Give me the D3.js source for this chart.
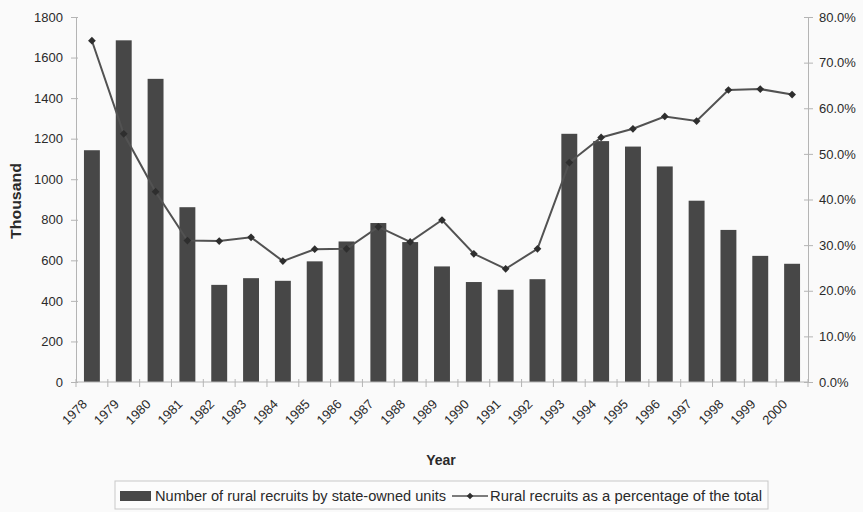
<!DOCTYPE html>
<html>
<head>
<meta charset="utf-8">
<script src="https://cdn.jsdelivr.net/npm/d3@7"></script>
<style>
body { margin: 0; background: #fff; }
text { font-family: "Liberation Sans", Arial, sans-serif; fill: #2a2a2a; }
</style>
</head>
<body>
<script>
const years = ["1978","1979","1980","1981","1982","1983","1984","1985","1986","1987","1988","1989","1990","1991","1992","1993","1994","1995","1996","1997","1998","1999","2000"]
const recruits = [1143, 1685, 1495, 862, 479, 512, 499, 595, 693, 784, 690, 570, 493, 455, 507, 1224, 1188, 1161, 1063, 894, 750, 622, 583]
const percentShare = [74.8, 54.4, 41.7, 31.0, 30.9, 31.7, 26.5, 29.1, 29.2, 34.0, 30.7, 35.5, 28.1, 24.8, 29.2, 48.1, 53.6, 55.5, 58.2, 57.2, 64.0, 64.2, 63.0]
const leftTicks = [0, 200, 400, 600, 800, 1000, 1200, 1400, 1600, 1800]
const rightTicks = [0, 10, 20, 30, 40, 50, 60, 70, 80]

const width = 863
const height = 512
const margin = {left: 76, right: 55, top: 17, bottom: 130}
const axisColor = "#b4b4b4"
const labelColor = "#484848"

const svg = d3.select("body")
    .append("svg")
    .attr("width", width)
    .attr("height", height)

svg.append("rect")
    .attr("x", 0).attr("y", 0)
    .attr("width", width).attr("height", height)
    .attr("fill", "#fafafa")

const x = d3.scaleBand()
    .domain(years)
    .range([margin.left, width - margin.right])
    .paddingInner(0.5)
    .paddingOuter(0.25)
const yLeft = d3.scaleLinear().domain([0, 1800]).range([height - margin.bottom, margin.top])
const yRight = d3.scaleLinear().domain([0, 80]).range([height - margin.bottom, margin.top])
const mid = d => x(d) + x.bandwidth() / 2

// bars
svg.selectAll(".bar")
    .data(years)
    .enter()
    .append("rect")
    .attr("class", "bar")
    .attr("x", d => x(d))
    .attr("y", (d, i) => yLeft(recruits[i]))
    .attr("width", x.bandwidth())
    .attr("height", (d, i) => yLeft(0) - yLeft(recruits[i]))
    .attr("fill", "#474747")

// left axis
const leftAxis = svg.append("g")
    .attr("transform", `translate(${margin.left},0)`)
    .call(d3.axisLeft(yLeft).tickValues(leftTicks).tickFormat(d3.format("d")).tickSize(5).tickPadding(8))
leftAxis.select(".domain").attr("stroke", axisColor)
leftAxis.selectAll(".tick line").attr("stroke", axisColor).attr("x2", -5).attr("x1", 2)
leftAxis.selectAll("text").attr("font-size", 13).attr("fill", labelColor)

// right axis
const rightAxis = svg.append("g")
    .attr("transform", `translate(${width - margin.right},0)`)
    .call(d3.axisRight(yRight).tickValues(rightTicks).tickSize(5).tickPadding(6)
        .tickFormat(d => d.toFixed(1) + "%"))
rightAxis.select(".domain").attr("stroke", axisColor)
rightAxis.selectAll(".tick line").attr("stroke", axisColor).attr("x1", -4)
rightAxis.selectAll("text").attr("font-size", 13).attr("fill", labelColor)

// x axis
const boundaries = d3.range(years.length + 1).map(i => margin.left + i * x.step() + (x.step() * (0.25 - 0.25)))
const xAxis = svg.append("g")
xAxis.append("line")
    .attr("x1", margin.left).attr("x2", width - margin.right)
    .attr("y1", yLeft(0)).attr("y2", yLeft(0))
    .attr("stroke", axisColor)
xAxis.selectAll(".xtick")
    .data(boundaries)
    .enter()
    .append("line")
    .attr("x1", d => d).attr("x2", d => d)
    .attr("y1", yLeft(0) - 3).attr("y2", yLeft(0) + 5)
    .attr("stroke", axisColor)
xAxis.selectAll(".xlabel")
    .data(years)
    .enter()
    .append("text")
    .attr("text-anchor", "end")
    .attr("font-size", 13)
    .attr("fill", labelColor)
    .attr("transform", d => `translate(${mid(d) - 4},${yLeft(0) + 23}) rotate(-45)`)
    .text(d => d)

// line
const line = d3.line()
    .x((d, i) => mid(years[i]))
    .y(d => yRight(d))
svg.append("path")
    .datum(percentShare)
    .attr("d", line)
    .attr("fill", "none")
    .attr("stroke", "#525252")
    .attr("stroke-width", 2)
svg.selectAll(".marker")
    .data(percentShare)
    .enter()
    .append("path")
    .attr("d", d3.symbol().type(d3.symbolSquare).size(30))
    .attr("transform", (d, i) => `translate(${mid(years[i])},${yRight(d)}) rotate(45)`)
    .attr("fill", "#2e2e2e")

// axis titles
svg.append("text")
    .attr("transform", `translate(21,201) rotate(-90)`)
    .attr("text-anchor", "middle")
    .attr("font-size", 14)
    .attr("font-weight", "bold")
    .attr("textLength", 76)
    .attr("lengthAdjust", "spacingAndGlyphs")
    .text("Thousand")
svg.append("text")
    .attr("x", 441).attr("y", 465)
    .attr("text-anchor", "middle")
    .attr("font-size", 14)
    .attr("font-weight", "bold")
    .text("Year")

// legend
const legend = svg.append("g")
legend.append("rect")
    .attr("x", 115).attr("y", 481)
    .attr("width", 653).attr("height", 28)
    .attr("fill", "#fcfcfc")
    .attr("stroke", "#c8c8c8")
legend.append("rect")
    .attr("x", 120).attr("y", 491)
    .attr("width", 31).attr("height", 10)
    .attr("fill", "#474747")
legend.append("text")
    .attr("x", 155).attr("y", 501)
    .attr("font-size", 14)
    .attr("textLength", 291)
    .attr("lengthAdjust", "spacingAndGlyphs")
    .text("Number of rural recruits by state-owned units")
legend.append("line")
    .attr("x1", 452).attr("x2", 488)
    .attr("y1", 496).attr("y2", 496)
    .attr("stroke", "#525252")
    .attr("stroke-width", 1.5)
legend.append("path")
    .attr("d", d3.symbol().type(d3.symbolSquare).size(22))
    .attr("transform", "translate(470,496) rotate(45)")
    .attr("fill", "#2e2e2e")
legend.append("text")
    .attr("x", 490).attr("y", 501)
    .attr("font-size", 14)
    .attr("textLength", 272)
    .attr("lengthAdjust", "spacingAndGlyphs")
    .text("Rural recruits as a percentage of the total")
</script>
</body>
</html>
